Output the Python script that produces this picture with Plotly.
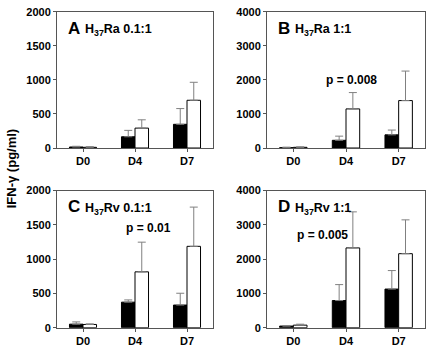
import plotly.graph_objects as go

days = ["D0", "D4", "D7"]

# Panel A: H37Ra 0.1:1
a_black = [15, 165, 348]
a_black_err = [10, 94, 231]
a_white = [10, 292, 701]
a_white_err = [10, 122, 264]
# Panel B: H37Ra 1:1
b_black = [10, 226, 386]
b_black_err = [15, 122, 141]
b_white = [20, 1148, 1393]
b_white_err = [15, 480, 866]
# Panel C: H37Rv 0.1:1
c_black = [51, 372, 330]
c_black_err = [33, 33, 172]
c_white = [47, 814, 1186]
c_white_err = [9, 433, 572]
# Panel D: H37Rv 1:1
d_black = [47, 791, 1126]
d_black_err = [10, 465, 539]
d_white = [74, 2326, 2158]
d_white_err = [28, 1051, 986]

panel_letters = ["A", "B", "C", "D"]
panel_titles = ["H<sub>37</sub>Ra 0.1:1", "H<sub>37</sub>Ra 1:1",
                "H<sub>37</sub>Rv 0.1:1", "H<sub>37</sub>Rv 1:1"]
y_max = [2000, 4000, 2000, 4000]
y_ticks = [[0, 500, 1000, 1500, 2000], [0, 1000, 2000, 3000, 4000],
           [0, 500, 1000, 1500, 2000], [0, 1000, 2000, 3000, 4000]]
p_texts = [None, "p = 0.008", "p = 0.01", "p = 0.005"]
p_pos = [None, (1.1, 1990), (1.25, 1450), (0.55, 2700)]

W, H = 430, 353
xdom = [[57 / W, 213 / W], [267 / W, 425 / W], [57 / W, 213 / W], [267 / W, 425 / W]]
ydom = [[1 - 147 / H, 1 - 6 / H], [1 - 147 / H, 1 - 6 / H],
        [1 - 333 / H, 1 - 191 / H], [1 - 333 / H, 1 - 191 / H]]

data = [(a_black, a_black_err, a_white, a_white_err),
        (b_black, b_black_err, b_white, b_white_err),
        (c_black, c_black_err, c_white, c_white_err),
        (d_black, d_black_err, d_white, d_white_err)]

FONT = "Liberation Sans, Arial, sans-serif"
fig = go.Figure()
layout = dict(width=W, height=H, margin=dict(l=0, r=0, t=0, b=0),
              paper_bgcolor="white", plot_bgcolor="white", showlegend=False,
              barmode="group", bargap=0.48, bargroupgap=0,
              font=dict(family=FONT, color="black"))
annotations = []
for i in range(4):
    k = "" if i == 0 else str(i + 1)
    bk, bke, wh, whe = data[i]
    err_style = dict(type="data", symmetric=False, arrayminus=[0, 0, 0],
                     color="#808080", thickness=1, width=4)
    fig.add_trace(go.Bar(x=days, y=bk, xaxis="x" + k, yaxis="y" + k,
                         marker=dict(color="black", line=dict(color="black", width=1)),
                         error_y=dict(array=bke, **err_style)))
    fig.add_trace(go.Bar(x=days, y=wh, xaxis="x" + k, yaxis="y" + k,
                         marker=dict(color="white", line=dict(color="black", width=1)),
                         error_y=dict(array=whe, **err_style)))
    layout["xaxis" + k] = dict(domain=xdom[i], anchor="y" + k, showgrid=False,
                               showline=True, linecolor="#555", linewidth=1, mirror=True,
                               ticks="outside", ticklen=3, tickcolor="#555",
                               tickfont=dict(size=11, family=FONT, weight="bold"),
                               fixedrange=True)
    layout["yaxis" + k] = dict(domain=ydom[i], anchor="x" + k, range=[0, y_max[i]],
                               tickvals=y_ticks[i], showgrid=False, zeroline=False,
                               showline=True, linecolor="#555", linewidth=1, mirror=True,
                               ticks="outside", ticklen=3, tickcolor="#555",
                               tickfont=dict(size=11, family=FONT, weight="bold"),
                               fixedrange=True)
    annotations.append(dict(text="<b>" + panel_letters[i] + "</b>", xref="x" + k + " domain",
                            yref="y" + k + " domain", x=0.06, y=0.88, xanchor="left",
                            yanchor="middle", showarrow=False,
                            font=dict(size=17, family=FONT)))
    annotations.append(dict(text="<b>" + panel_titles[i] + "</b>", xref="x" + k + " domain",
                            yref="y" + k + " domain", x=0.165, y=0.865, xanchor="left",
                            yanchor="middle", showarrow=False,
                            font=dict(size=12.5, family=FONT)))
    if p_texts[i]:
        annotations.append(dict(text="<b>" + p_texts[i] + "</b>", xref="x" + k,
                                yref="y" + k, x=p_pos[i][0], y=p_pos[i][1],
                                xanchor="center", yanchor="middle", showarrow=False,
                                font=dict(size=12, family=FONT)))

annotations.append(dict(text="<b>IFN-γ (pg/ml)</b>", xref="paper", yref="paper",
                        x=11 / W, y=1 - 169 / H, textangle=-90, showarrow=False,
                        xanchor="center", yanchor="middle",
                        font=dict(size=13, family=FONT)))
layout["annotations"] = annotations
fig.update_layout(**layout)
fig.write_html("out.html", config={"displayModeBar": False},
               post_script="document.body.style.margin='0';document.body.style.padding='0';")
